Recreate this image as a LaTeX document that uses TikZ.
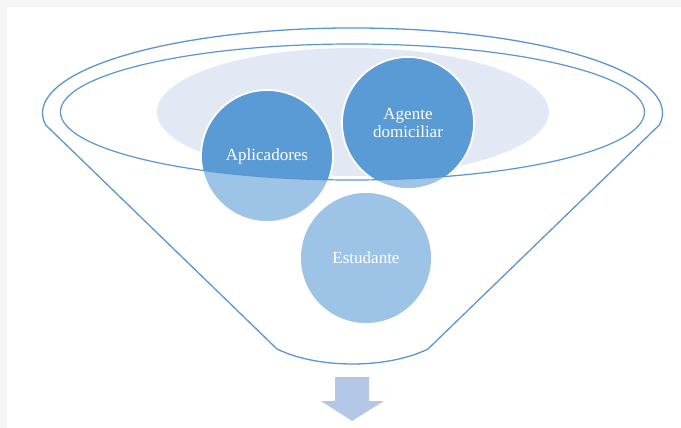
\documentclass[tikz,border=0pt]{standalone}
\usepackage{fontspec}
\setmainfont{Liberation Serif}
\definecolor{edgeblue}{HTML}{5B96D0}
\definecolor{darkdisk}{HTML}{5B9BD5}
\definecolor{lightdisk}{HTML}{9DC3E6}
\definecolor{haze}{HTML}{E2E9F4}
\definecolor{arrowblue}{HTML}{B4C7E7}
\definecolor{frame}{HTML}{F6F6F6}
\begin{document}
\begin{tikzpicture}[x=1pt,y=1pt,
  funnelline/.style={draw=edgeblue,line width=1.3pt,line join=round},
  disk/.style={circle,fill=lightdisk,draw=white,line width=1.8pt,
    minimum size=132pt,inner sep=0pt,text=white,align=center,
    font=\fontsize{17}{17.5}\selectfont,
    path picture={\fill[darkdisk] (mouth) ellipse[x radius=292,y radius=68];}}]
  \useasboundingbox (0,0) rectangle (681,-428);
  \fill[white] (0,0) rectangle (681,-428);
  % thin grey page edge
  \fill[frame] (0,0) rectangle (681,-7);
  \fill[frame] (0,0) rectangle (7,-428);

  % centre of the funnel mouth
  \coordinate (mouth) at (352.5,-112);

  % pale haze inside the mouth
  \begin{scope}
    \clip (mouth) ellipse[x radius=292,y radius=68];
    \fill[haze] (353,-112) ellipse[x radius=196,y radius=64];
  \end{scope}

  % the three items
  \node[disk] (apl) at (267,-156) {Aplicadores};
  \node[disk] (age) at (408,-123) {Agente\\domiciliar};
  \node[disk] (est) at (366,-258) {Estudante};

  % inner rim of the funnel
  \draw[funnelline,line width=1.2pt] (mouth) ellipse[x radius=292,y radius=68];

  % funnel body: outer rim, sides and spout
  \draw[funnelline]
    (659.5,-124.8) arc[start angle=-8,end angle=188,x radius=310,y radius=85]
    -- (277,-349)
    .. controls (318,-369) and (387,-369) .. (428,-349)
    -- cycle;

  % output arrow below the spout
  \fill[arrowblue] (335,-377) -- (369,-377) -- (369,-401) -- (384,-401)
    -- (352,-421) -- (321,-401) -- (335,-401) -- cycle;
\end{tikzpicture}
\end{document}
